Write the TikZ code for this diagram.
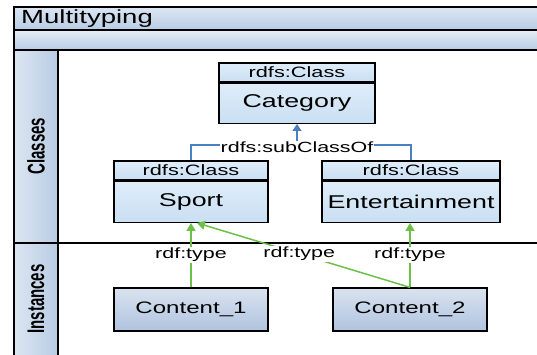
\documentclass[tikz,border=0pt]{standalone}
\usepackage{fontspec}
\setmainfont[FakeStretch=1.45]{Liberation Sans}
\newfontfamily\lanefont{Liberation Sans}
\usetikzlibrary{arrows.meta}
\definecolor{bandtop}{HTML}{DCE6F2}
\definecolor{bandbot}{HTML}{B8CCE4}
\definecolor{classtop}{HTML}{DFEDF9}
\definecolor{classbot}{HTML}{C9DFF3}
\definecolor{insttop}{HTML}{DAE3F0}
\definecolor{instbot}{HTML}{AFC3DF}
\definecolor{subblue}{HTML}{4A7FC1}
\definecolor{typegreen}{HTML}{6CC04A}

\begin{document}
\begin{tikzpicture}[x=1pt,y=-1pt,
		frameline/.style={draw=black,line width=1.3pt},
		classhead/.style={draw=black,line width=1.3pt,top color=classtop,bottom color=classbot,inner sep=0pt,minimum height=19pt,font=\fontsize{15}{15}\selectfont},
		classbody/.style={draw=black,line width=1.3pt,top color=classtop,bottom color=classbot,inner sep=0pt,minimum height=40pt,font=\fontsize{18.5}{18.5}\selectfont},
		instbox/.style={draw=black,line width=1.3pt,top color=insttop,bottom color=instbot,inner sep=0pt,minimum width=154pt,minimum height=43pt,font=\fontsize{16.6}{16.6}\selectfont},
		subline/.style={draw=subblue,line width=1.5pt},
		typeline/.style={draw=typegreen,line width=1.5pt,-{Triangle[width=9pt,length=8pt]}},
		linklabel/.style={fill=white,inner sep=1pt,font=\fontsize{14.8}{14.8}\selectfont},
		lanelabel/.style={rotate=90,inner sep=0pt,font=\lanefont\bfseries\fontsize{15}{15}\selectfont}]
		\useasboundingbox (0,0) rectangle (537,354);
		% swimlane frame
		\fill[top color=bandtop,bottom color=bandbot] (14,7) rectangle (539,30);
		\fill[top color=bandtop!70,bottom color=bandbot] (14,30) rectangle (539,50);
		\fill[left color=bandtop,right color=bandbot] (14,50) rectangle (58,356);
		\draw[frameline] (14,356) -- (14,7) -- (539,7);
		\draw[frameline] (14,30) -- (539,30);
		\draw[frameline] (14,50) -- (539,50);
		\draw[frameline] (58,50) -- (58,356);
		\draw[frameline] (14,243) -- (539,243);
		\node[anchor=west,inner sep=0pt,font=\fontsize{19}{19}\selectfont] (title) at (21,18.5) {Multityping};
		\node[lanelabel] (classes) at (36,146) {\scalebox{1}[1.6]{Classes}};
		\node[lanelabel] (instances) at (36,299) {\scalebox{1}[1.6]{Instances}};
		% classes
		\node[classhead,minimum width=156pt] (category_h) at (297,72.5) {rdfs:Class};
		\node[classbody,minimum width=156pt,anchor=north] (category) at (category_h.south) {Category};
		\node[classhead,minimum width=154pt] (sport_h) at (191,170.5) {rdfs:Class};
		\node[classbody,minimum width=154pt,minimum height=41pt,anchor=north] (sport) at (sport_h.south) {Sport};
		\node[classhead,minimum width=178pt] (ent_h) at (411,170.5) {rdfs:Class};
		\node[classbody,minimum width=178pt,minimum height=41pt,anchor=north] (ent) at (ent_h.south) {Entertainment};
		\coordinate (joint) at (297,145);
		\draw[subline] (sport_h.north) |- (joint) -| (ent_h.north);
		\draw[subline,-{Triangle[width=9pt,length=7pt]}] (joint) -- (category.south);
		\node[linklabel] (subclass) at ([yshift=-2pt]joint) {rdfs:subClassOf};
		% instances
		\node[instbox] (content1) at (191,309.5) {Content\_1};
		\node[instbox] (content2) at (410,309.5) {Content\_2};
		\coordinate (sporttip) at ([xshift=6pt]sport.south);
		\draw[typeline] (content1.north) -- node[linklabel] (type1) {rdf:type} (sport.south);
		\draw[typeline] (content2.north) -- node[linklabel,pos=0.52] (type2) {rdf:type} (sporttip);
		\draw[typeline] (content2.north) -- node[linklabel] (type3) {rdf:type} (content2.north |- ent.south);
\end{tikzpicture}
\end{document}
